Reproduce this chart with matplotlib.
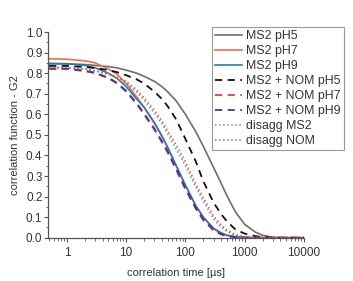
import numpy as np
from matplotlib import pyplot as plt
from matplotlib.ticker import MultipleLocator, LogLocator, NullFormatter

t = [0.5, 1, 2, 3, 5, 7, 10, 15, 20, 30, 40, 50, 70, 100, 150, 200, 300,
     400, 500, 700, 1000, 1500, 2000, 3000, 5000, 10000]

ms2_ph5 = [.845, .845, .842, .838, .832, .826, .815, .80, .785, .76, .735, .71,
           .665, .60, .515, .445, .34, .265, .205, .125, .065, .028, .012,
           .002, 0, 0]
ms2_ph7 = [.87, .868, .86, .85, .82, .795, .75, .685, .635, .555, .495, .44,
           .35, .255, .155, .10, .042, .022, .011, .004, .001, 0, 0, 0, 0, 0]
ms2_ph9 = [.848, .846, .838, .826, .80, .775, .735, .675, .635, .56, .495, .44,
           .35, .255, .155, .10, .045, .024, .012, .005, .001, 0, 0, 0, 0, 0]
nom_ph5 = [.835, .835, .83, .825, .815, .805, .79, .77, .75, .71, .675, .64,
           .575, .48, .37, .275, .17, .115, .08, .04, .02, .008, .003, 0, 0, 0]
nom_ph7 = [.82, .82, .81, .80, .775, .75, .71, .65, .60, .525, .465, .415,
           .33, .235, .14, .085, .035, .016, .008, .003, .001, 0, 0, 0, 0, 0]
nom_ph9 = [.823, .822, .812, .802, .778, .753, .715, .655, .605, .53, .47, .42,
           .335, .24, .145, .09, .037, .018, .009, .003, .001, 0, 0, 0, 0, 0]
disagg_ms2 = [.828, .828, .822, .812, .797, .778, .752, .708, .668, .605, .555,
              .505, .43, .35, .245, .178, .09, .05, .03, .012, .004, .001, 0,
              0, 0, 0]
disagg_nom = [.825, .825, .82, .81, .795, .78, .76, .72, .68, .62, .57, .52,
              .45, .37, .26, .195, .105, .062, .038, .015, .005, .001, 0,
              0, 0, 0]

plt.rcParams['font.family'] = ['Liberation Sans', 'DejaVu Sans']

fig = plt.figure(figsize=(3.53, 2.81), dpi=100)
ax = fig.add_axes([0.136, 0.154, 0.725, 0.732])

ax.plot(t, ms2_ph5, '-', c='#6e6e6e', lw=1.2, label='MS2 pH5')
ax.plot(t, ms2_ph7, '-', c='#ec6f45', lw=1.2, label='MS2 pH7')
ax.plot(t, ms2_ph9, '-', c='#2a78b8', lw=1.2, label='MS2 pH9')
ax.plot(t, nom_ph5, '--', c='#111111', lw=1.3, dashes=(4, 3), label='MS2 + NOM pH5')
ax.plot(t, nom_ph7, '--', c='#e5402e', lw=1.3, dashes=(4, 3), label='MS2 + NOM pH7')
ax.plot(t, nom_ph9, '--', c='#3c3c9c', lw=1.3, dashes=(4, 3), label='MS2 + NOM pH9')
ax.plot(t, disagg_ms2, ':', c='#7a8a9a', lw=1.1, label='disagg MS2')
ax.plot(t, disagg_nom, ':', c='#e5503e', lw=1.1, label='disagg NOM')

ax.set_xscale('log')
ax.set_xlim(0.48, 10000)
ax.set_ylim(0, 1.0)
ax.set_xticks([1, 10, 100, 1000, 10000])
ax.set_xticklabels(['1', '10', '100', '1000', '10000'])
ax.xaxis.set_minor_locator(LogLocator(base=10, subs=np.arange(2, 10), numticks=20))
ax.xaxis.set_minor_formatter(NullFormatter())
ax.yaxis.set_major_locator(MultipleLocator(0.1))
ax.yaxis.set_minor_locator(MultipleLocator(0.05))
ax.yaxis.set_major_formatter(plt.FormatStrFormatter('%.1f'))

for s in ['top', 'right']:
  ax.spines[s].set_visible(False)
for s in ['left', 'bottom']:
  ax.spines[s].set_color('#555555')
  ax.spines[s].set_linewidth(0.9)
ax.tick_params(which='major', direction='out', length=3, width=0.8,
               colors='#555555', labelcolor='#333333', labelsize=8.5)
ax.tick_params(axis='y', which='major', pad=1)
ax.tick_params(which='minor', direction='out', length=1.8, width=0.6,
               colors='#555555')

ax.set_xlabel('correlation time [µs]', fontsize=8, color='#333333', labelpad=7)
ax.set_ylabel('correlation function - G2', fontsize=8, color='#333333', labelpad=4)

leg = ax.legend(loc='upper right', bbox_to_anchor=(1.156, 1.024), fontsize=8.9,
                handlelength=2.2, handletextpad=0.3, borderpad=0.25,
                labelspacing=0.24, borderaxespad=0, fancybox=False,
                framealpha=1, edgecolor='#999999', frameon=True)
leg.get_frame().set_linewidth(0.8)
for txt in leg.get_texts():
  txt.set_color('#333333')

fig.savefig('out.png', dpi=100)
